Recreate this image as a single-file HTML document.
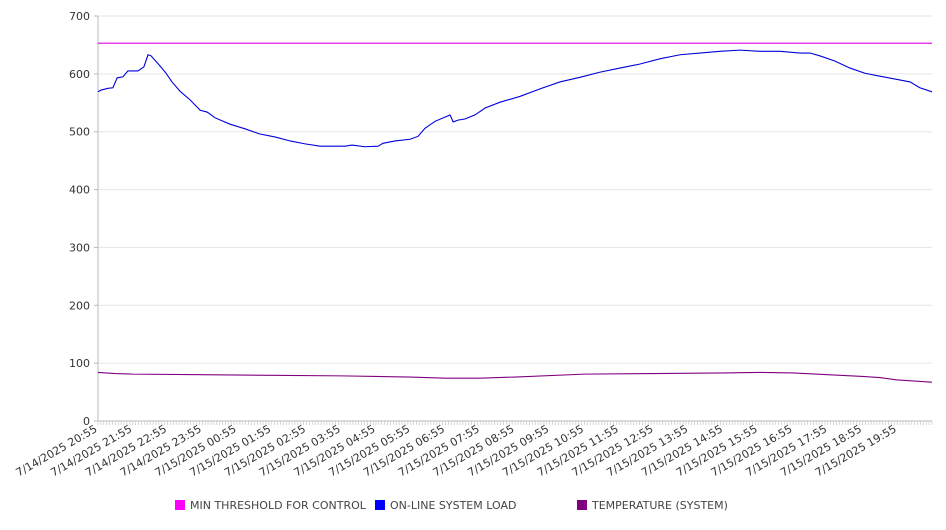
<!DOCTYPE html>
<html><head><meta charset="utf-8"><style>
body{margin:0;background:#fff;font-family:"DejaVu Sans","Liberation Sans",sans-serif;}
svg text{font-family:"DejaVu Sans","Liberation Sans",sans-serif;}
</style></head><body>
<svg id="c" width="946" height="526" xmlns="http://www.w3.org/2000/svg"></svg>
<script>
const xLabels=["7/14/2025 20:55","7/14/2025 21:55","7/14/2025 22:55","7/14/2025 23:55","7/15/2025 00:55","7/15/2025 01:55","7/15/2025 02:55","7/15/2025 03:55","7/15/2025 04:55","7/15/2025 05:55","7/15/2025 06:55","7/15/2025 07:55","7/15/2025 08:55","7/15/2025 09:55","7/15/2025 10:55","7/15/2025 11:55","7/15/2025 12:55","7/15/2025 13:55","7/15/2025 14:55","7/15/2025 15:55","7/15/2025 16:55","7/15/2025 17:55","7/15/2025 18:55","7/15/2025 19:55"];
const yTicks=[0,100,200,300,400,500,600,700];
const thresholdValue=653;
const loadHours=[0,0.09,0.29,0.43,0.55,0.72,0.86,1.15,1.32,1.44,1.53,1.78,1.96,2.13,2.36,2.65,2.94,3.14,3.37,3.8,4.23,4.66,5.09,5.53,5.96,6.39,6.82,7.11,7.31,7.68,8.06,8.2,8.55,8.98,9.21,9.41,9.7,10.13,10.22,10.36,10.56,10.85,11.14,11.57,12.14,12.72,13.29,13.87,14.45,15.02,15.6,16.17,16.75,17.32,17.9,18.47,19.05,19.63,20.2,20.49,20.78,21.21,21.64,22.07,22.5,22.94,23.37,23.65,24];
const loadValues=[569,572,575,576,593,595,605,605,612,633,631,614,601,586,570,555,537,534,524,513,505,496,491,484,479,475,475,475,477,474,475,480,484,487,492,506,518,529,517,520,522,529,541,551,561,574,586,594,603,610,617,626,633,636,639,641,639,639,636,636,631,622,610,601,596,591,586,576,569];
const tempHours=[0,0.5,1,3,5,7,8,9,10,11,12,14,16,18,19,20,21,22,22.5,23,23.5,24];
const tempValues=[84,82,81,80,79,78,77,76,74,74,76,81,82,83,84,83,80,77,75,71,69,67];
const svg=document.getElementById('c');const NS='http://www.w3.org/2000/svg';
const X0=98,X1=932,Y0=421,Y1=16;
const xs=h=>X0+(X1-X0)*h/24;
const ys=v=>Y0-(Y0-Y1)*v/700;
function mk(t,a,p){const e=document.createElementNS(NS,t);for(const k in a)e.setAttribute(k,a[k]);(p||svg).appendChild(e);return e;}
yTicks.forEach(v=>{
 const g=mk('line',{x1:X0,x2:X1,y1:ys(v),y2:ys(v),stroke:v===0?'#bbb':'#e6e6e6','stroke-width':1});
 
 
 mk('line',{x1:X0-4,x2:X0,y1:ys(v),y2:ys(v),stroke:'#bbb'});
 const t=mk('text',{x:90,y:ys(v)+4,'text-anchor':'end','font-size':11,fill:'#333'});t.textContent=v;
 
 
});
mk('line',{x1:X0,x2:X0,y1:Y1,y2:Y0,stroke:'#bbb'});
for(let i=0;i<=288;i++){const x=X0+(X1-X0)*i/288;mk('line',{x1:x,x2:x,y1:Y0,y2:Y0+4,stroke:'#ccc','stroke-width':0.8});}
xLabels.forEach((l,i)=>{const x=xs(i);
 const t=mk('text',{x:x,y:Y0+10,'text-anchor':'end','font-size':11,fill:'#333',transform:`rotate(-30 ${x} ${Y0+10})`});t.textContent=l;
 
 
});
const th=mk('line',{x1:X0,x2:X1,y1:ys(thresholdValue),y2:ys(thresholdValue),stroke:'#e000e0','stroke-width':1.2});


function line(hs,vs,c,n){const p=mk('polyline',{points:hs.map((h,i)=>xs(h)+','+ys(vs[i])).join(' '),fill:'none',stroke:c,'stroke-width':1.1});
 
 }
line(loadHours,loadValues,'#0000dd','system-load-line');
line(tempHours,tempValues,'#800080','temperature-line');
const leg=[["MIN THRESHOLD FOR CONTROL","#ff00ff",175],["ON-LINE SYSTEM LOAD","#0000ff",375],["TEMPERATURE (SYSTEM)","#800080",577]];
leg.forEach(([t,c,x])=>{const g=mk('g',{});
 
 
 mk('rect',{x:x,y:500,width:10,height:10,fill:c},g);
 const tx=mk('text',{x:x+15,y:509,'font-size':11,fill:'#444'},g);tx.textContent=t;});
</script>
</body></html>
